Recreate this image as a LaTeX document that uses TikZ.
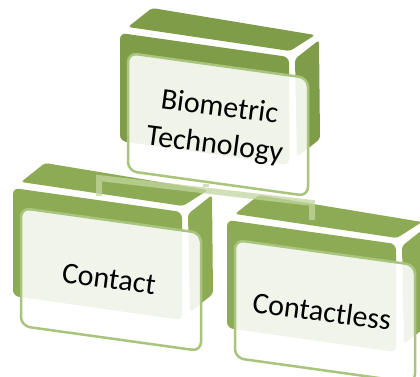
\documentclass[tikz,border=0pt]{standalone}
\usepackage{fontspec}
\setmainfont{Carlito}

\definecolor{topgreen}{HTML}{7F9D49}
\definecolor{lowgreen}{HTML}{8DAB54}
\definecolor{cardrim}{HTML}{A9C47D}
\definecolor{linkrim}{HTML}{C2D6A0}

\tikzset{
  tiercard/.style={fill=white, fill opacity=0.88, draw=cardrim, line width=2.5pt},
  tiertext/.style={font=\fontsize{30}{38}\selectfont, rotate=-7.5, align=center, inner sep=0pt},
  link/.style={draw=linkrim, line width=6pt, draw opacity=0.75},
  pics/tier/.style={code={
    % top, front and side faces of the block
    \fill[#1, rounded corners=3pt] (8,-6) -- (32,-25) -- (195,2) -- (170,18) -- cycle;
    \fill[#1, rounded corners=6pt] (0,0) -- (169,24) -- (169,132) -- (0,108) -- cycle;
    \fill[#1, rounded corners=3pt] (175,26) -- (199,7) -- (200,106) -- (177,124) -- cycle;
    % card in front
    \filldraw[tiercard, rounded corners=9pt] (8,20) -- (188,45) -- (188,163) -- (8,138) -- cycle;
  }},
}

\begin{document}
\begin{tikzpicture}[x=1pt,y=-1pt]
\clip (0,0) rectangle (420,377);

\pic at (120,33) {tier=topgreen};
\pic at (13,188) {tier=lowgreen};
\pic at (227,220) {tier=lowgreen};

% connector between the blocks
\coordinate (bioBase) at (206,184);
\coordinate (fork) at (206,187);
\coordinate (contactTop) at (99,196);
\coordinate (contactBend) at (99,178);
\coordinate (contactlessBend) at (312,203);
\coordinate (contactlessTop) at (312,220);
\draw[link] (contactTop) -- (contactBend) -- (contactlessBend) -- (contactlessTop);
\draw[link, line cap=butt] (bioBase) -- (fork);

\node[tiertext] (bio) at (217,127) {Biometric\\Technology};
\node[tiertext] (contact) at (109,279) {Contact};
\node[tiertext] (contactless) at (322,311) {Contactless};
\end{tikzpicture}
\end{document}
